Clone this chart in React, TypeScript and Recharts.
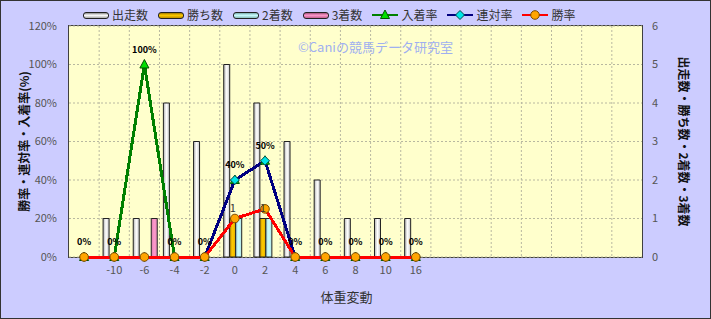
import React from 'react';
import {
  ComposedChart, Bar, Line, XAxis, YAxis, CartesianGrid, Legend, LabelList,
} from 'recharts';

// 体重変動ごとの成績 (最後の7区分は空欄)
const categories = ['', '-10', '-6', '-4', '-2', '0', '2', '4', '6', '8', '10', '16'];
const emptySlots = 7;
const starts = [0, 1, 1, 4, 3, 5, 4, 3, 2, 1, 1, 1];
const wins = [0, 0, 0, 0, 0, 1, 1, 0, 0, 0, 0, 0];
const seconds = [0, 0, 0, 0, 0, 1, 1, 0, 0, 0, 0, 0];
const thirds = [0, 0, 1, 0, 0, 0, 0, 0, 0, 0, 0, 0];
const placeRate = [0, 0, 100, 0, 0, 40, 50, 0, 0, 0, 0, 0];
const rentaiRate = [0, 0, 0, 0, 0, 40, 50, 0, 0, 0, 0, 0];
const winRate = [0, 0, 0, 0, 0, 20, 25, 0, 0, 0, 0, 0];

const leftTicks = [0, 20, 40, 60, 80, 100, 120];
const rightTicks = [0, 1, 2, 3, 4, 5, 6];

const data = [
  ...categories.map((name, i) => ({
    name,
    starts: starts[i],
    wins: wins[i],
    seconds: seconds[i],
    thirds: thirds[i],
    placeRate: placeRate[i],
    rentaiRate: rentaiRate[i],
    winRate: winRate[i],
  })),
  ...Array.from({ length: emptySlots }, () => ({
    name: '', starts: null, wins: null, seconds: null, thirds: null,
    placeRate: null, rentaiRate: null, winRate: null,
  })),
];

const FONT = '"Noto Sans CJK JP", "Noto Sans", sans-serif';
const W = 711;
const H = 319;
const AXIS_W = 69;
const TOP = 26;
const X_AXIS_H = 62;

const barItems = [
  { label: '出走数', bg: 'linear-gradient(to bottom, #888, #fff 45%, #aaa)' },
  { label: '勝ち数', bg: 'linear-gradient(to bottom, #a07800, #ffcc00 45%, #c09000)' },
  { label: '2着数', bg: 'linear-gradient(to bottom, #7aa, #ccffff 45%, #8bb)' },
  { label: '3着数', bg: 'linear-gradient(to bottom, #a05078, #ff99cc 45%, #c06090)' },
];
const lineItems = [
  { label: '入着率', color: '#008000', marker: 'tri' },
  { label: '連対率', color: '#000080', marker: 'dia' },
  { label: '勝率', color: '#ff0000', marker: 'circle' },
];

const markerSvg = (kind: string, cx: number, cy: number) => {
  if (kind === 'tri') {
    return <path d={`M${cx},${cy - 5} L${cx + 4.5},${cy + 3.5} L${cx - 4.5},${cy + 3.5} Z`} fill="#00e000" stroke="#005500" strokeWidth={1} />;
  }
  if (kind === 'dia') {
    return <path d={`M${cx},${cy - 4.5} L${cx + 4.5},${cy} L${cx},${cy + 4.5} L${cx - 4.5},${cy} Z`} fill="#00e6e6" stroke="#004a4a" strokeWidth={1} />;
  }
  return <circle cx={cx} cy={cy} r={4.3} fill="#ffa500" stroke="#7a4a00" strokeWidth={1} />;
};

const makeDot = (kind: string) => (props: any) => {
  const { cx, cy, index, value } = props;
  if (cx == null || cy == null || value == null) return <g key={`${kind}-${index}`} />;
  return <g key={`${kind}-${index}`}>{markerSvg(kind, cx, cy)}</g>;
};

const LegendContent = () => (
  <div style={{ display: 'flex', alignItems: 'center', fontFamily: FONT, fontSize: 12, color: '#333', lineHeight: '16px' }}>
    {barItems.map((b) => (
      <div key={b.label} style={{ display: 'flex', alignItems: 'center', marginRight: 10 }}>
        <span style={{ display: 'inline-block', width: 24, height: 5, border: '1px solid #222', borderRadius: 3, background: b.bg, marginRight: 3 }} />
        <span>{b.label}</span>
      </div>
    ))}
    {lineItems.map((l) => (
      <div key={l.label} style={{ display: 'flex', alignItems: 'center', marginRight: 10 }}>
        <svg width={26} height={12} style={{ marginRight: 3 }}>
          <line x1={0} y1={6} x2={26} y2={6} stroke={l.color} strokeWidth={2} />
          {markerSvg(l.marker, 13, 6)}
        </svg>
        <span>{l.label}</span>
      </div>
    ))}
  </div>
);

const n = data.length;

export default function App() {
  return (
    <div style={{ position: 'absolute', left: 0, top: 0, width: W, height: H, background: '#ccccff', boxShadow: 'inset 0 0 0 1px #333', fontFamily: FONT }}>
      {/* plot frame, sits under the svg so the lines draw over it */}
      <div style={{
        position: 'absolute', left: AXIS_W - 1, top: TOP - 1,
        width: W - 2 * AXIS_W, height: H - TOP - X_AXIS_H, border: '1px solid #404040',
      }} />
      <ComposedChart width={W} height={H} data={data} margin={{ top: TOP, right: 0, bottom: 0, left: 0 }}
        barGap={0} barCategoryGap="13%">
        <defs>
          <linearGradient id="gStarts" x1="0" y1="0" x2="1" y2="0">
            <stop offset="0%" stopColor="#b0b0b0" />
            <stop offset="50%" stopColor="#ffffff" />
            <stop offset="100%" stopColor="#c8c8c8" />
          </linearGradient>
          <linearGradient id="gWins" x1="0" y1="0" x2="1" y2="0">
            <stop offset="0%" stopColor="#d09a00" />
            <stop offset="50%" stopColor="#ffcc00" />
            <stop offset="100%" stopColor="#e0aa00" />
          </linearGradient>
          <linearGradient id="gSeconds" x1="0" y1="0" x2="1" y2="0">
            <stop offset="0%" stopColor="#a8dede" />
            <stop offset="50%" stopColor="#ccffff" />
            <stop offset="100%" stopColor="#b0e4e4" />
          </linearGradient>
          <linearGradient id="gThirds" x1="0" y1="0" x2="1" y2="0">
            <stop offset="0%" stopColor="#d880b0" />
            <stop offset="50%" stopColor="#ff99cc" />
            <stop offset="100%" stopColor="#e088b8" />
          </linearGradient>
        </defs>
        <CartesianGrid yAxisId="left" fill="#ffffcc" stroke="#b8b8a0" strokeDasharray="2 2"
          verticalCoordinatesGenerator={({ offset }: any) =>
            Array.from({ length: n - 1 }, (_, i) => offset.left + ((i + 1) * offset.width) / n)} />
        <XAxis dataKey="name" height={X_AXIS_H} tickLine={false} tickSize={0} tickMargin={9} interval={0}
          axisLine={false} tick={{ fontSize: 11, fill: '#555' }}
          label={{
            content: ({ viewBox }: any) => (
              <text x={viewBox.x + viewBox.width / 2 - 9} y={viewBox.y + 45} textAnchor="middle" fontSize={13} fill="#333" fontFamily={FONT}>体重変動</text>
            ),
          }} />
        <YAxis yAxisId="left" orientation="left" width={AXIS_W} domain={[0, 120]} ticks={leftTicks}
          tickFormatter={(v) => `${v}%`} tickLine={false} tickSize={0} tickMargin={12}
          axisLine={false} tick={{ fontSize: 11, fill: '#555' }}
          label={{ value: '勝率・連対率・入着率(%)', angle: -90, position: 'center', dx: -10, fontSize: 12, fontWeight: 'bold', fill: '#111' }} />
        <YAxis yAxisId="right" orientation="right" width={AXIS_W} domain={[0, 6]} ticks={rightTicks}
          tickLine={false} tickSize={0} tickMargin={10}
          axisLine={false} tick={{ fontSize: 11, fill: '#555' }}
          label={{ value: '出走数・勝ち数・2着数・3着数', angle: 90, position: 'center', dx: 7, fontSize: 12, fontWeight: 'bold', fill: '#111' }} />
        <Legend layout="horizontal" verticalAlign="middle" align="center" content={<LegendContent />}
          wrapperStyle={{ top: 7, left: 83, width: 600, height: 16 }} />
        <Bar yAxisId="right" dataKey="starts" name="出走数" fill="url(#gStarts)" stroke="#222" strokeWidth={1} isAnimationActive={false} />
        <Bar yAxisId="right" dataKey="wins" name="勝ち数" fill="url(#gWins)" stroke="#222" strokeWidth={1} isAnimationActive={false}>
          <LabelList dataKey="wins" position="top" offset={7} fontSize={11} fill="#333"
            formatter={(v: any) => (v ? String(v) : '')} />
        </Bar>
        <Bar yAxisId="right" dataKey="seconds" name="2着数" fill="url(#gSeconds)" stroke="#222" strokeWidth={1} isAnimationActive={false} />
        <Bar yAxisId="right" dataKey="thirds" name="3着数" fill="url(#gThirds)" stroke="#222" strokeWidth={1} isAnimationActive={false} />
        <Line yAxisId="left" dataKey="placeRate" name="入着率" stroke="#008000" strokeWidth={3} shapeRendering="crispEdges"
          dot={makeDot('tri')} activeDot={false} isAnimationActive={false}>
          <LabelList dataKey="placeRate" position="top" offset={12} fontSize={9} fontWeight="bold" fill="#000"
            formatter={(v: any) => (v == null ? '' : `${v}%`)} />
        </Line>
        <Line yAxisId="left" dataKey="rentaiRate" name="連対率" stroke="#000080" strokeWidth={3} shapeRendering="crispEdges"
          dot={makeDot('dia')} activeDot={false} isAnimationActive={false} />
        <Line yAxisId="left" dataKey="winRate" name="勝率" stroke="#ff0000" strokeWidth={3} shapeRendering="crispEdges"
          dot={makeDot('circle')} activeDot={false} isAnimationActive={false} />
      </ComposedChart>
      <div style={{ position: 'absolute', left: 298, top: 37, fontSize: 13, color: '#9fb0f0', pointerEvents: 'none', whiteSpace: 'nowrap' }}>
        ©Caniの競馬データ研究室
      </div>
    </div>
  );
}
